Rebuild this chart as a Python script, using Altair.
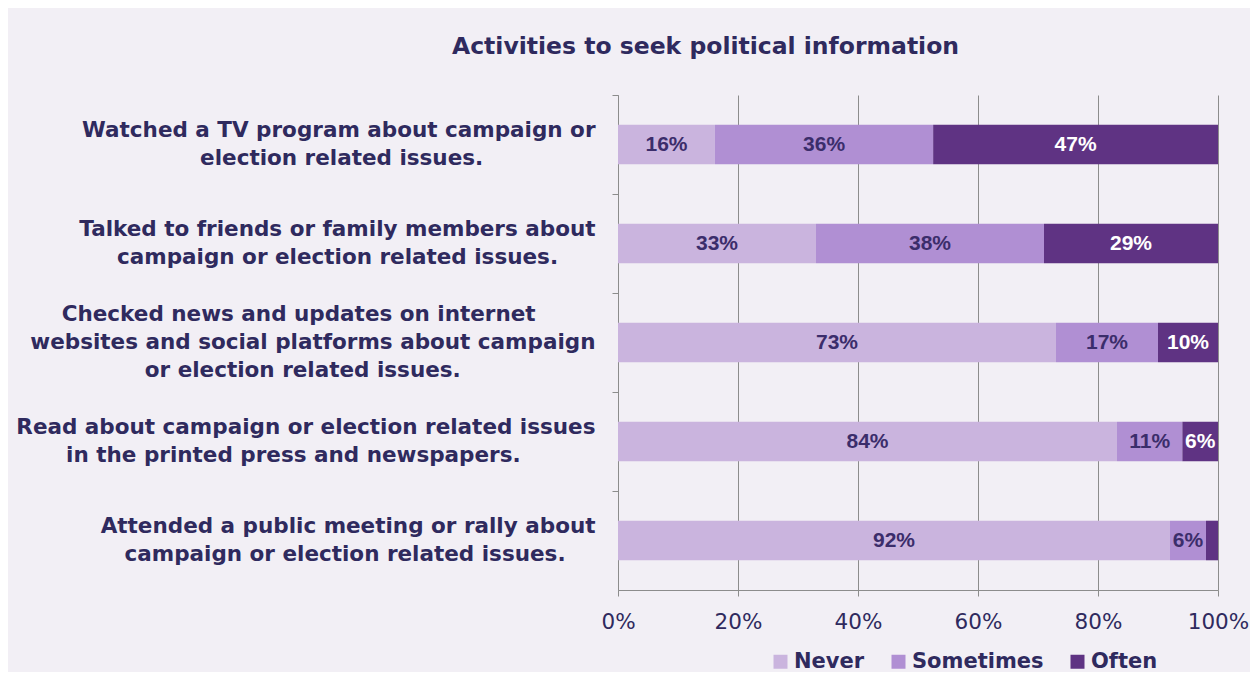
import json
import altair as alt
import pandas as pd

# ---- data ----
title_text = "Activities to seek political information"
activity_lines = [
    ["Watched a TV program about campaign or", "election related issues."],
    ["Talked to friends or family members about", "campaign or election related issues."],
    ["Checked news and updates on internet",
     "websites and social platforms about campaign",
     "or election related issues."],
    ["Read about campaign or election related issues", "in the printed press and newspapers."],
    ["Attended a public meeting or rally about", "campaign or election related issues."],
]
responses = ["Never", "Sometimes", "Often"]
never = [16, 33, 73, 84, 92]
sometimes = [36, 38, 17, 11, 6]
often = [47, 29, 10, 6, 2]
tick_values = [0, 0.2, 0.4, 0.6, 0.8, 1.0]

# ---- styles ----
colors = ["#cab4de", "#b08fd3", "#5f3383"]
text_dark = "#2f2a5e"
bar_text_dark = "#3b2d6b"
grid_gray = "#8c8c8c"
bg = "#f2eff5"

NBSP = "\u00a0"
ZWSP = "\u200b"


def centered(lines):
    # pad shorter lines so that right-aligned lines look centred on each other
    longest = max(len(l) for l in lines)
    out = []
    for l in lines:
        k = round((longest - len(l)) * 1.05)
        out.append(l + (NBSP * k + ZWSP if k else ""))
    return "|".join(out)


labels = [centered(l) for l in activity_lines]
rows = []
for i, lab in enumerate(labels):
    for r, series in zip(responses, [never, sometimes, often]):
        rows.append({"activity": lab, "response": r, "value": series[i]})
df = pd.DataFrame(rows)

base = (
    alt.Chart(df)
    .transform_calculate(order=f"indexof({json.dumps(responses)}, datum.response)")
    .transform_stack(
        stack="value",
        groupby=["activity"],
        as_=["x0", "x1"],
        offset="normalize",
        sort=[alt.SortField("order", order="ascending")],
    )
    .transform_calculate(mid="(datum.x0 + datum.x1) / 2")
)

x_axis = alt.Axis(
    title=None,
    values=tick_values,
    format=".0%",
    grid=True,
    gridColor=grid_gray,
    domainColor=grid_gray,
    tickColor=grid_gray,
    tickSize=6,
    labelFlush=False,
    labelFont="DejaVu Sans",
    labelFontSize=21.5,
    labelColor=text_dark,
    labelPadding=15,
)
x_scale = alt.Scale(domain=[0, 1], nice=False, zero=True)

PLOT_H = 495
half_step = PLOT_H / len(activity_lines) / 2

y_axis = alt.Axis(
    title=None,
    labelExpr="split(datum.label, '|')",
    labelAlign="right",
    labelBaseline="middle",
    labelFont="DejaVu Sans",
    labelFontWeight="bold",
    labelFontSize=21.5,
    labelLineHeight=28,
    labelLimit=900,
    labelPadding=17,
    tickOffset=-half_step,
    labelOffset=alt.condition(
        "length(split(datum.label, '|')) > 2",
        alt.value(half_step - 28),
        alt.value(half_step - 14),
    ),
    labelColor=text_dark,
    ticks=True,
    tickSize=6,
    tickColor=grid_gray,
    domainColor=grid_gray,
    grid=False,
)
y_enc = alt.Y(
    "activity:N",
    sort=labels,
    scale=alt.Scale(paddingInner=0.6, paddingOuter=0.3),
    axis=y_axis,
)

bars = base.mark_bar().encode(
    x=alt.X("x0:Q", scale=x_scale, axis=x_axis),
    x2="x1:Q",
    y=y_enc,
    color=alt.Color(
        "response:N",
        scale=alt.Scale(domain=responses, range=colors),
        legend=alt.Legend(
            title=None,
            orient="none",
            legendX=152,
            legendY=556,
            direction="horizontal",
            symbolType="square",
            symbolSize=196,
            symbolStrokeWidth=0,
            labelFont="DejaVu Sans",
            labelFontWeight="bold",
            labelFontSize=21,
            labelColor=text_dark,
            labelOffset=3,
            columnPadding=23,
        ),
    ),
)

texts = (
    base.transform_filter("datum.value >= 3")
    .transform_calculate(lbl="datum.value + '%'")
    .mark_text(font="Liberation Sans", fontWeight="bold", fontSize=21, baseline="middle", align="center")
    .encode(
        x=alt.X("mid:Q", scale=x_scale, axis=x_axis),
        y=y_enc,
        text="lbl:N",
        color=alt.condition("datum.response == 'Often'", alt.value("white"), alt.value(bar_text_dark)),
    )
)

chart = (
    alt.layer(bars, texts)
    .properties(
        width=600,
        height=PLOT_H,
        padding={"left": 610, "top": 87, "right": 32, "bottom": 82},
        autosize=alt.AutoSizeParams(type="none"),
        background=bg,
        title=alt.TitleParams(
            text=title_text,
            font="DejaVu Sans",
            fontSize=23.5,
            fontWeight="bold",
            color=text_dark,
            anchor="start",
            frame="group",
            dx=-166,
            dy=23,
            offset=35,
            baseline="bottom",
        ),
    )
    .configure_view(stroke=None)
)

chart.save("out.html", embed_options={"renderer": "svg", "actions": False})
